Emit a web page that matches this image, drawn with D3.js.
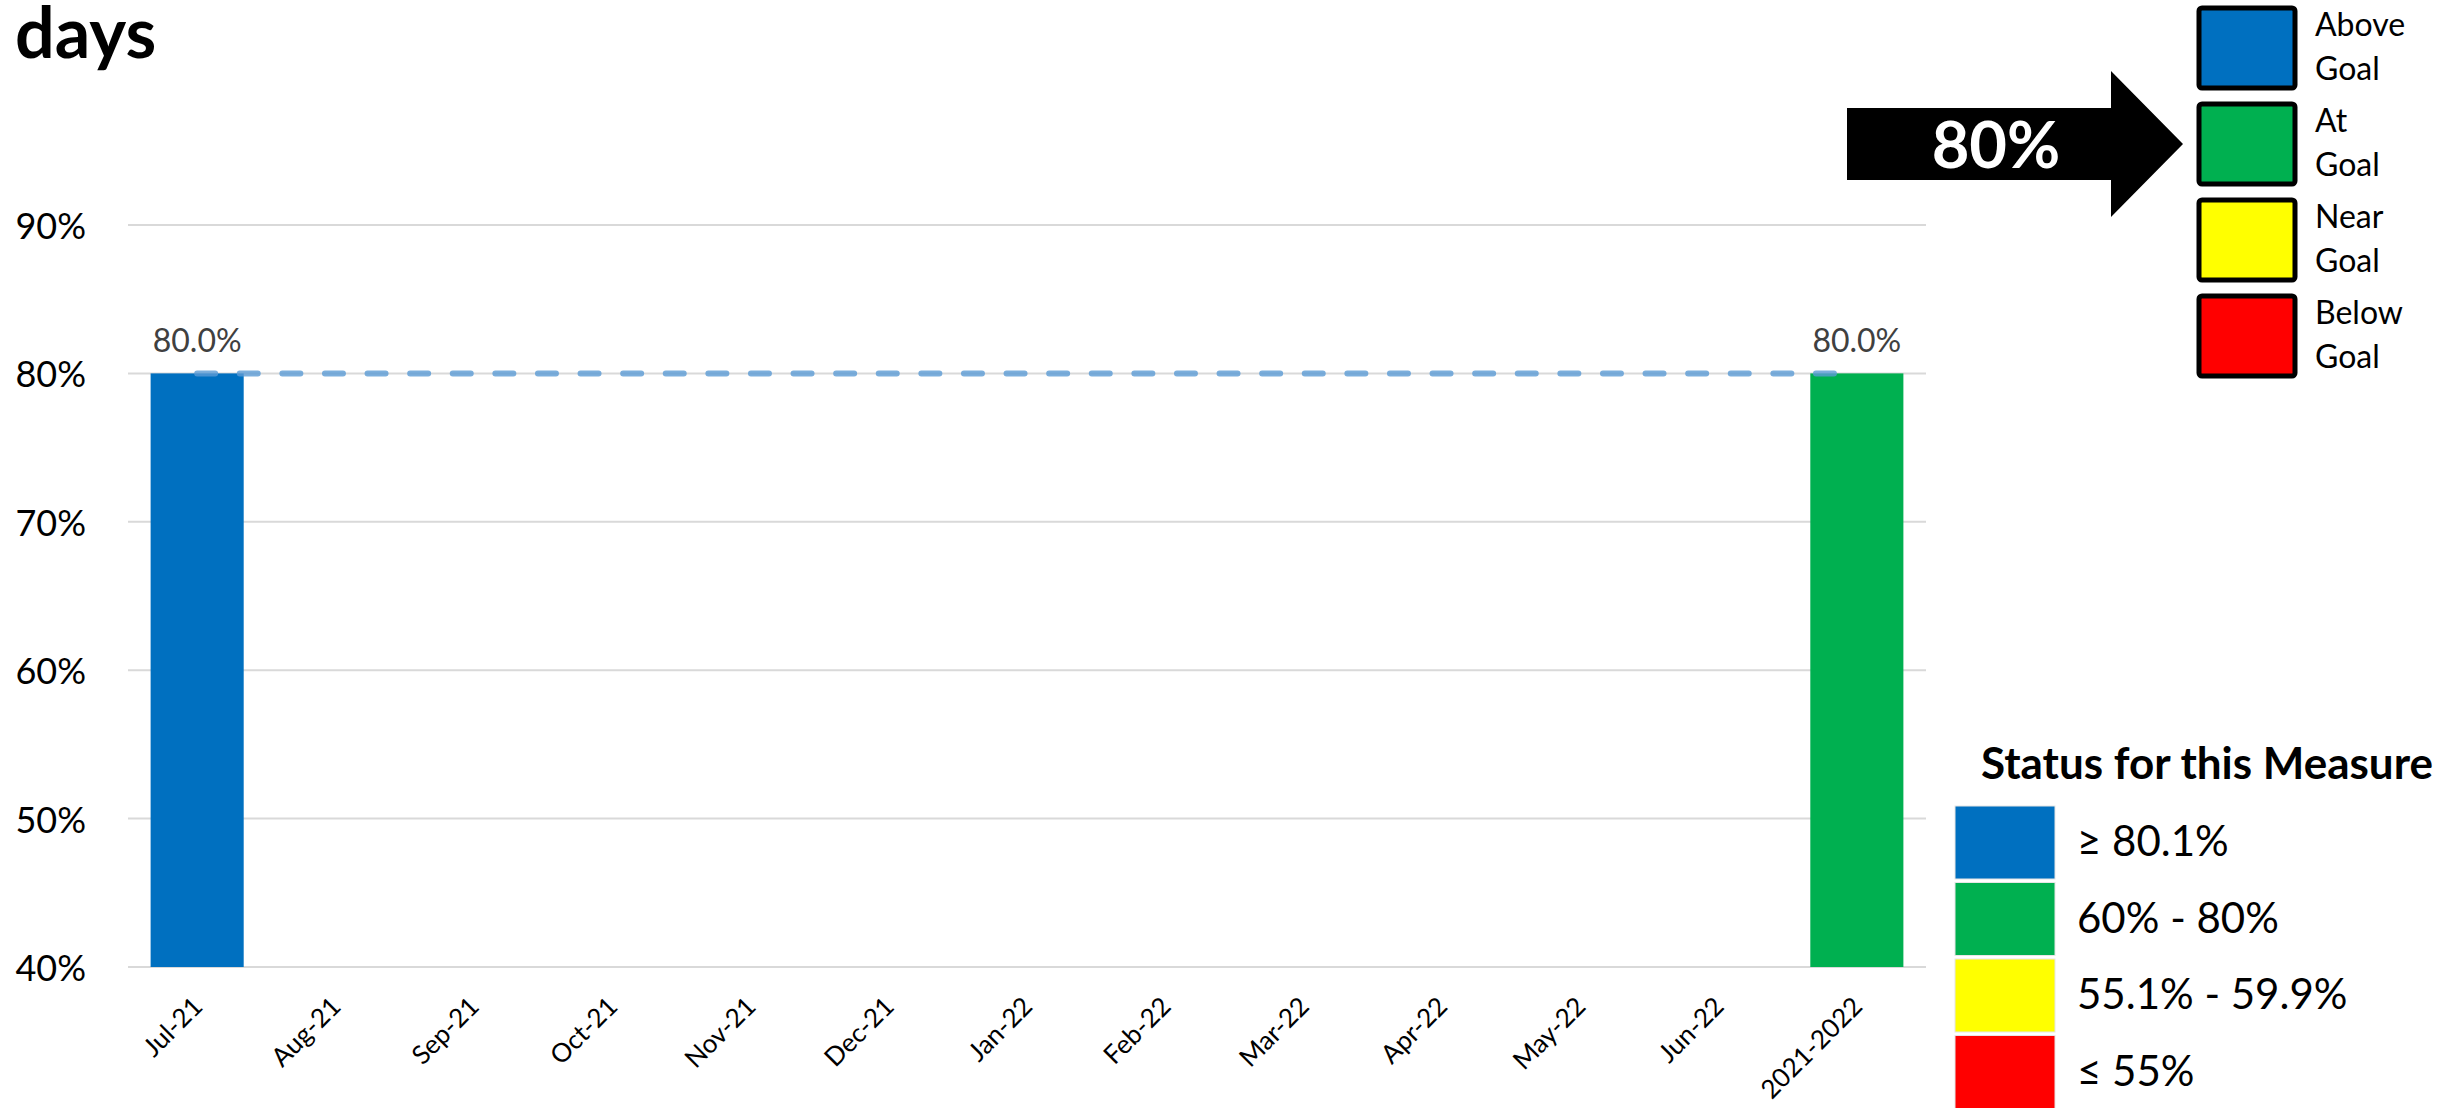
<!DOCTYPE html>
<html>
<head>
<meta charset="utf-8">
<script src="https://cdn.jsdelivr.net/npm/d3@7"></script>
<style>
  html, body { margin: 0; padding: 0; background: #fff; }
  svg { display: block; font-family: Lato, "Noto Sans", sans-serif; }
</style>
</head>
<body>
<div id="chart"></div>
<script>
// chart data
const categories = ['Jul-21', 'Aug-21', 'Sep-21', 'Oct-21', 'Nov-21', 'Dec-21', 'Jan-22',
    'Feb-22', 'Mar-22', 'Apr-22', 'May-22', 'Jun-22', '2021-2022'];
const values = [0.80, null, null, null, null, null, null, null, null, null, null, null, 0.80];
const status = ['above', null, null, null, null, null, null, null, null, null, null, null, 'at'];
const goal = [0.80, 0.80, 0.80, 0.80, 0.80, 0.80, 0.80, 0.80, 0.80, 0.80, 0.80, 0.80, 0.80];
const yTicks = [0.4, 0.5, 0.6, 0.7, 0.8, 0.9];
const goalText = '80%';

const goalLegend = ['Above|Goal', 'At|Goal', 'Near|Goal', 'Below|Goal'];
const statusLegend = ['≥ 80.1%', '60% - 80%', '55.1% - 59.9%', '≤ 55%'];
const statusKeys = ['above', 'at', 'near', 'below'];

let getColor = function (s) {
    if (s === 'above')
        return '#0070C0';
    else if (s === 'at')
        return '#00B050';
    else if (s === 'near')
        return '#FFFF00';
    else
        return '#FF0000';
}

let drawChart = function () {
    const w = 2450, h = 1108;
    const svg = d3.select('#chart').append('svg')
        .attr('width', w)
        .attr('height', h);

    const x = d3.scaleBand()
        .domain(categories)
        .range([128, 1926])
        .paddingInner(0.327)
        .paddingOuter(0.1635);

    const y = d3.scaleLinear()
        .domain([0.4, 0.9])
        .range([967, 225]);

    // title (only the last word shows)
    svg.append('text')
        .attr('x', 15)
        .attr('y', 58)
        .attr('font-size', 70)
        .attr('font-weight', 'bold')
        .attr('fill', '#000')
        .text('days');

    // gridlines + y labels
    svg.append('g')
        .selectAll('line')
        .data(yTicks)
        .enter()
        .append('line')
        .attr('x1', 128)
        .attr('x2', 1926)
        .attr('y1', d => y(d))
        .attr('y2', d => y(d))
        .attr('stroke', '#d9d9d9')
        .attr('stroke-width', 2);

    svg.append('g')
        .selectAll('text')
        .data(yTicks)
        .enter()
        .append('text')
        .attr('x', 86)
        .attr('y', d => y(d))
        .attr('text-anchor', 'end')
        .attr('dominant-baseline', 'central')
        .attr('font-size', 36)
        .attr('fill', '#000')
        .text(d => d3.format('.0%')(d));

    const data = categories.map((c, i) => ({ cat: c, v: values[i], s: status[i] }))
        .filter(d => d.v !== null);

    // bars
    svg.append('g')
        .selectAll('rect')
        .data(data)
        .enter()
        .append('rect')
        .attr('x', d => x(d.cat))
        .attr('y', d => y(d.v))
        .attr('width', x.bandwidth())
        .attr('height', d => y(0.4) - y(d.v))
        .attr('fill', d => getColor(d.s));

    // goal line
    const line = d3.line()
        .x((d, i) => x(categories[i]) + x.bandwidth() / 2)
        .y(d => y(d));

    svg.append('path')
        .datum(goal)
        .attr('d', line)
        .attr('fill', 'none')
        .attr('stroke', '#5B9BD5')
        .attr('stroke-opacity', 0.8)
        .attr('stroke-width', 6)
        .attr('stroke-linecap', 'round')
        .attr('stroke-dasharray', '18 24.6');

    // data labels
    svg.append('g')
        .selectAll('text')
        .data(data)
        .enter()
        .append('text')
        .attr('x', d => x(d.cat) + x.bandwidth() / 2)
        .attr('y', d => y(d.v) - 21)
        .attr('text-anchor', 'middle')
        .attr('font-size', 32)
        .attr('fill', '#404040')
        .text(d => d3.format('.1%')(d.v));

    // x labels
    svg.append('g')
        .selectAll('text')
        .data(categories)
        .enter()
        .append('text')
        .attr('transform', d => 'translate(' + (x(d) + x.bandwidth() / 2 + 7) + ',1008) rotate(-45)')
        .attr('text-anchor', 'end')
        .attr('font-size', 26)
        .attr('fill', '#000')
        .text(d => d);

    // arrow with goal
    const arrow = [[1847, 108], [2111, 108], [2111, 71], [2183, 144], [2111, 217], [2111, 180], [1847, 180]];
    svg.append('polygon')
        .attr('points', arrow.map(p => p.join(',')).join(' '))
        .attr('fill', '#000');

    svg.append('text')
        .attr('x', 1996)
        .attr('y', 168)
        .attr('text-anchor', 'middle')
        .attr('font-size', 65)
        .attr('font-weight', 'bold')
        .attr('fill', '#fff')
        .text(goalText);

    // goal legend (top right)
    const gl = svg.append('g')
        .selectAll('g')
        .data(goalLegend)
        .enter()
        .append('g')
        .attr('transform', (d, i) => 'translate(0,' + (6 + i * 96) + ')');

    gl.append('rect')
        .attr('x', 2199)
        .attr('y', 2)
        .attr('width', 96)
        .attr('height', 80)
        .attr('rx', 3)
        .attr('fill', (d, i) => getColor(statusKeys[i]))
        .attr('stroke', '#000')
        .attr('stroke-width', 5);

    gl.append('text')
        .attr('x', 2315)
        .attr('y', 30)
        .attr('font-size', 32)
        .attr('fill', '#000')
        .text(d => d.split('|')[0]);

    gl.append('text')
        .attr('x', 2315)
        .attr('y', 74)
        .attr('font-size', 32)
        .attr('fill', '#000')
        .text(d => d.split('|')[1]);

    // status legend (bottom right)
    svg.append('text')
        .attr('x', 1981)
        .attr('y', 779)
        .attr('font-size', 44)
        .attr('font-weight', 'bold')
        .attr('fill', '#000')
        .text('Status for this Measure');

    const sl = svg.append('g')
        .selectAll('g')
        .data(statusLegend)
        .enter()
        .append('g')
        .attr('transform', (d, i) => 'translate(0,' + (806 + i * 76.5) + ')');

    sl.append('rect')
        .attr('x', 1955)
        .attr('y', 0)
        .attr('width', 100)
        .attr('height', 73)
        .attr('fill', (d, i) => getColor(statusKeys[i]))
        .attr('stroke', '#e6e6e6')
        .attr('stroke-width', 1);

    sl.append('text')
        .attr('x', 2077)
        .attr('y', 50)
        .attr('font-size', 42)
        .attr('fill', '#000')
        .text(d => d);

    svg.node();
}

drawChart();
</script>
</body>
</html>
